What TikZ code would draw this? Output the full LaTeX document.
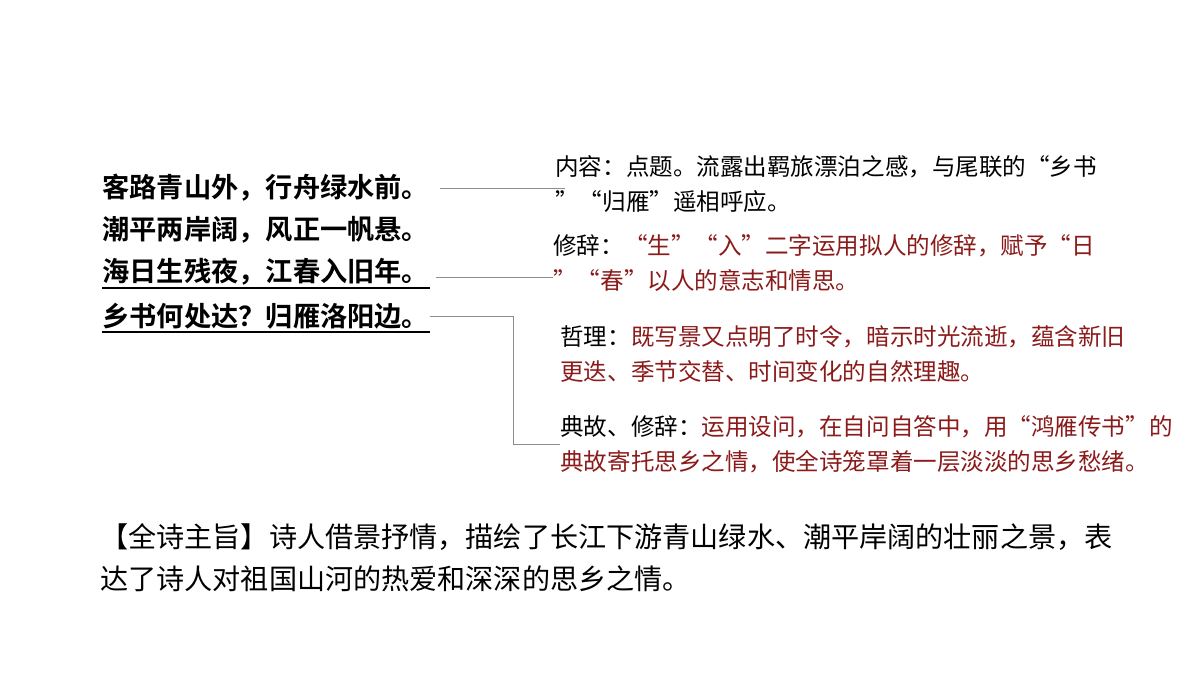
\documentclass[tikz,border=0pt]{standalone}
\usepackage{fontspec}
\newfontfamily\cjk{Noto Sans CJK SC}[BoldFont={Noto Sans CJK SC Bold}]
\usetikzlibrary{positioning}
\definecolor{deepred}{HTML}{8B1A1A}

\begin{document}
\begin{tikzpicture}[
    poem/.style={anchor=west, inner sep=0pt, font=\cjk\bfseries\fontsize{15.5}{18}\selectfont},
    note/.style={anchor=west, inner sep=0pt, align=left, font=\cjk\fontsize{13.4}{19.9}\selectfont},
    link/.style={draw=black!45, line width=0.5pt},
    uline/.style={draw=black, line width=0.8pt}
]
    \useasboundingbox (0,0) rectangle (24,13.5);

    % Poem lines
    \node[poem] (l1) at (2.04,9.74) {客路青山外，行舟绿水前。};
    \node[poem] (l2) at (2.04,8.90) {潮平两岸阔，风正一帆悬。};
    \node[poem] (l3) at (2.04,8.06) {海日生残夜，江春入旧年。};
    \node[poem] (l4) at (2.04,7.18) {乡书何处达？归雁洛阳边。};

    \draw[uline] ([yshift=-0.32cm]l3.west) -- ([yshift=-0.32cm]l3.east);
    \draw[uline] ([yshift=-0.32cm]l4.west) -- ([yshift=-0.32cm]l4.east);

    % Notes
    \node[note] (n1) at (11.10,9.82) {内容：点题。流露出羁旅漂泊之感，与尾联的“乡书\\”“归雁”遥相呼应。};
    \node[note] (n2) at (11.06,8.24) {修辞：\textcolor{deepred}{“生”“入”二字运用拟人的修辞，赋予“日}\\\textcolor{deepred}{”“春”以人的意志和情思。}};
    \node[note] (n3) at (11.20,6.41) {哲理：\textcolor{deepred}{既写景又点明了时令，暗示时光流逝，蕴含新旧}\\\textcolor{deepred}{更迭、季节交替、时间变化的自然理趣。}};
    \node[note] (n4) at (11.20,4.62) {典故、修辞：\textcolor{deepred}{运用设问，在自问自答中，用“鸿雁传书”的}\\\textcolor{deepred}{典故寄托思乡之情，使全诗笼罩着一层淡淡的思乡愁绪。}};

    % Connectors
    \draw[link] ([xshift=0.2cm]l1.east) -- ([xshift=0.2cm]l1.east -| n1.west);
    \draw[link] ([xshift=0.12cm,yshift=-0.1cm]l3.east) -- ([yshift=-0.1cm]l3.east -| n2.west);
    \draw[link] (l4.east) -| ([xshift=-0.94cm]n4.west) -- (n4.west);

    % Summary
    \node[note, font=\cjk\fontsize{16}{23.9}\selectfont] (sum) at (2.0,2.34) {【全诗主旨】诗人借景抒情，描绘了长江下游青山绿水、潮平岸阔的壮丽之景，表\\达了诗人对祖国山河的热爱和深深的思乡之情。};
\end{tikzpicture}
\end{document}
